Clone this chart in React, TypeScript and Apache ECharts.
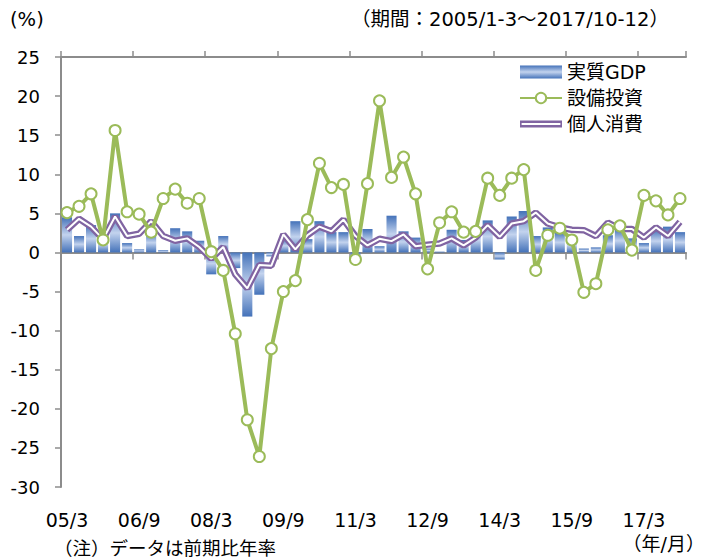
import React, { useEffect, useRef } from "react";
import * as echarts from "echarts";

// Quarter labels 05/3 ... 17/12 (year/month-end of quarter)
const years = ["05", "06", "07", "08", "09", "10", "11", "12", "13", "14", "15", "16", "17"];
const months = ["3", "6", "9", "12"];
const quarters: string[] = [];
years.forEach((y) => months.forEach((m) => quarters.push(`${y}/${m}`)));

const yTicks = { min: -30, max: 25, interval: 5 };

// 実質GDP (前期比年率, %)
const gdp = [
  4.5, 2.1, 3.5, 2.1, 5.0, 1.2, 0.4, 2.5, 0.3, 3.1, 2.7, 1.5,
  -2.8, 2.1, -2.0, -8.2, -5.4, -0.5, 1.7, 4.0, 1.7, 4.0, 2.6, 2.6,
  -1.3, 3.0, 0.8, 4.7, 2.7, 1.9, 0.5, 0.1, 2.9, 1.6, 3.1, 4.1,
  -0.9, 4.6, 5.3, 2.1, 3.2, 2.6, 1.8, 0.5, 0.65, 2.2, 3.0, 1.8,
  1.2, 2.9, 3.3, 2.6,
];

// 設備投資
const capex = [
  5.1, 5.9, 7.5, 1.6, 15.6, 5.2, 4.9, 2.6, 6.9, 8.1, 6.3, 6.9,
  0.1, -2.3, -10.4, -21.4, -26.1, -12.3, -5.0, -3.6, 4.2, 11.4, 8.3, 8.7,
  -0.9, 8.8, 19.4, 9.6, 12.2, 7.5, -2.1, 3.8, 5.2, 2.6, 2.7, 9.5,
  7.3, 9.5, 10.6, -2.3, 2.2, 3.1, 1.6, -5.1, -4.0, 2.9, 3.4, 0.3,
  7.3, 6.6, 4.8, 6.9,
];

// 個人消費
const consumption = [
  2.9, 4.3, 3.3, 1.7, 4.6, 2.1, 2.4, 4.0, 2.1, 1.5, 1.8, 0.7,
  -0.8, 0.7, -2.8, -4.6, -1.6, -1.7, 2.3, 0.4, 2.2, 3.3, 2.7, 4.2,
  2.1, 0.9, 1.75, 1.45, 2.3, 0.8, 1.0, 1.15, 1.8, 0.9, 1.9, 3.5,
  2.0, 3.7, 4.0, 5.1, 3.7, 3.2, 2.9, 2.85, 2.1, 3.8, 3.0, 3.0,
  1.9, 3.2, 2.1, 3.9,
];

const FONT = "'DejaVu Sans', 'Noto Sans CJK JP', sans-serif";
const GREY = "#8c8c8c";

export default function App() {
  const ref = useRef<HTMLDivElement>(null);
  useEffect(() => {
    const chart = echarts.init(ref.current!, null, { renderer: "svg" });
    const barGrad = new echarts.graphic.LinearGradient(0, 0, 0, 1, [
      { offset: 0, color: "#4472b9" },
      { offset: 0.5, color: "#c3d3ee" },
      { offset: 1, color: "#4472b9" },
    ]);
    const gridBox = { left: 61, right: 19, top: 57, bottom: 73 };
    chart.setOption({
      animation: false,
      textStyle: { fontFamily: FONT },
      grid: [gridBox, gridBox],
      legend: {
        orient: "vertical",
        left: 519,
        top: 62,
        padding: 0,
        itemWidth: 42,
        itemHeight: 13,
        itemGap: 6,
        selectedMode: false,
        textStyle: { fontSize: 19, color: "#000", fontFamily: FONT, lineHeight: 20 },
        data: [
          { name: "実質GDP", icon: "rect" },
          { name: "設備投資" },
          {
            name: "個人消費",
            icon: "path://M0,0L42,0L42,7L0,7Z M1.6,2.4L1.6,4.6L40.4,4.6L40.4,2.4Z",
            itemStyle: { color: "#8064a2", borderWidth: 0 },
          },
        ],
      },
      xAxis: [
        {
          type: "category",
          gridIndex: 0,
          data: quarters,
          position: "bottom",
          axisLine: { show: false },
          axisTick: { show: false },
          splitLine: { show: false },
          axisLabel: { interval: 5, margin: 23, fontSize: 19, color: "#000", fontFamily: FONT },
        },
        {
          type: "category",
          gridIndex: 0,
          data: quarters,
          position: "top",
          axisLine: { onZero: true, lineStyle: { color: GREY, width: 2 } },
          axisTick: { show: true, interval: 5, length: 6, lineStyle: { color: GREY, width: 1.5 } },
          axisLabel: { show: false },
          splitLine: { show: false },
        },
        {
          type: "category",
          gridIndex: 1,
          data: quarters,
          position: "bottom",
          axisLine: { onZero: true, lineStyle: { color: GREY, width: 2 } },
          axisTick: { show: true, interval: 5, length: 7, lineStyle: { color: GREY, width: 1.5 } },
          axisLabel: { show: false },
          splitLine: { show: false },
        },
      ],
      yAxis: [
        {
          type: "value",
          gridIndex: 0,
          ...yTicks,
          axisLine: { show: true, lineStyle: { color: GREY, width: 2 } },
          axisTick: { show: true, length: 6, lineStyle: { color: GREY, width: 1.5 } },
          splitLine: { show: false },
          axisLabel: { margin: 21, fontSize: 18, color: "#000", fontFamily: FONT },
        },
        {
          type: "value",
          gridIndex: 1,
          ...yTicks,
          show: false,
        },
      ],
      series: [
        {
          name: "実質GDP",
          type: "bar",
          xAxisIndex: 0,
          yAxisIndex: 0,
          data: gdp,
          barCategoryGap: "16%",
          itemStyle: { color: barGrad },
        },
        {
          name: "個人消費",
          type: "line",
          xAxisIndex: 0,
          yAxisIndex: 0,
          data: consumption,
          symbol: "none",
          itemStyle: { color: "#8064a2" },
          lineStyle: { color: "#8064a2", width: 6.5 },
        },
        {
          name: "個人消費_inner",
          type: "line",
          xAxisIndex: 0,
          yAxisIndex: 0,
          data: consumption,
          symbol: "none",
          itemStyle: { color: "#ffffff" },
          lineStyle: { color: "#ffffff", width: 2 },
        },
        {
          name: "設備投資",
          type: "line",
          xAxisIndex: 0,
          yAxisIndex: 0,
          data: capex,
          symbol: "circle",
          symbolSize: 11,
          showAllSymbol: true,
          itemStyle: { color: "#ffffff", borderColor: "#9bbb59", borderWidth: 2 },
          lineStyle: { color: "#9bbb59", width: 4 },
        },
      ],
      graphic: [
        {
          type: "text",
          left: 10,
          top: 10,
          style: { text: "(%)", fontSize: 19.5, fill: "#000", fontFamily: FONT },
        },
        {
          type: "text",
          left: 351,
          top: 10,
          style: { text: "（期間：2005/1-3～2017/10-12）", fontSize: 19.5, fill: "#000", fontFamily: FONT },
        },
        {
          type: "text",
          left: 54,
          top: 539,
          style: { text: "（注）データは前期比年率", fontSize: 18.5, fill: "#000", fontFamily: FONT },
        },
        {
          type: "text",
          right: 0,
          top: 534,
          style: { text: "（年/月）", fontSize: 19, fill: "#000", fontFamily: FONT },
        },
      ],
    });
    return () => chart.dispose();
  }, []);
  return (
    <div
      ref={ref}
      style={{ position: "absolute", left: 0, top: 0, width: 705, height: 560 }}
    />
  );
}
